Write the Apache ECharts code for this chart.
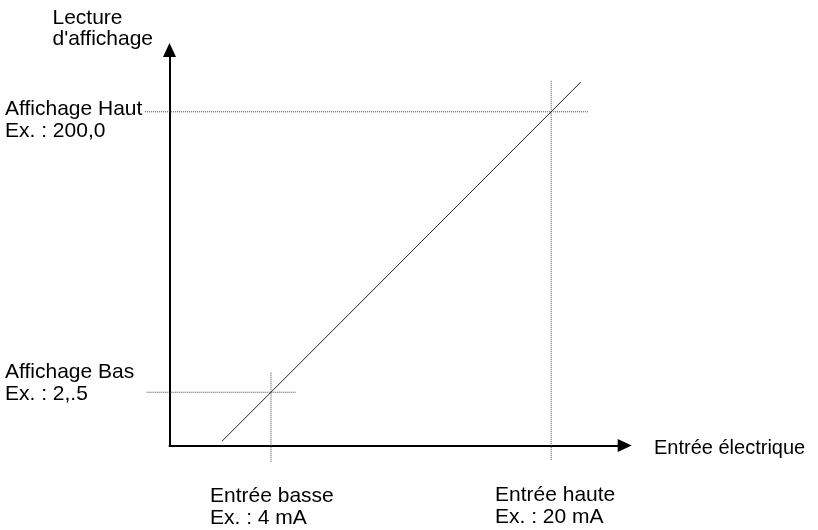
<!DOCTYPE html>
<html>
<head>
<meta charset="utf-8">
<script src="https://cdn.jsdelivr.net/npm/echarts@6/dist/echarts.min.js"></script>
<style>
  html, body { margin: 0; padding: 0; background: #fff; }
  #chart { width: 818px; height: 530px; }
</style>
</head>
<body>
<div id="chart"></div>
<script>
// Scaling of an analog input: electrical input (mA) -> displayed reading
const inputRange = [-3.2, 24.2];        // mA covered by the drawing area (guides reach past the axis)
const axisInputRange = [-1.8, 24.2];    // mA spanned by the drawn horizontal axis
const displayRange = [-35, 243.5];      // reading spanned by the vertical axis

const inputLow = 4;                      // mA
const inputHigh = 20;                    // mA
const displayLow = 2.5;
const displayHigh = 200;

// scaling line (input, reading)
const traceInput = [1.2, 4, 20, 21.7];
const traceDisplay = [-32, 2.5, 200, 221];

// extents of the dotted guide lines
const highGuideInput = [-3.2, 22.1];
const highGuideDisplay = [221.8, -45];
const lowGuideInput = [-3.1, 5.4];
const lowGuideDisplay = [16.3, -47];

const FONT = '"Liberation Sans", Arial, sans-serif';
const chart = echarts.init(document.getElementById('chart'));

const guideStyle = { color: '#444', width: 1, type: 'dotted' };
function guide(points) {
  return {
    type: 'line', data: points, symbol: 'none', clip: false, silent: true,
    xAxisIndex: 0, yAxisIndex: 0,
    lineStyle: guideStyle, z: 1, animation: false
  };
}

function label(text, x, baseline, size) {
  size = size || 21;
  return {
    type: 'text', x: x, y: baseline - 0.35 * size,
    style: { text: text, fill: '#000', font: size + 'px ' + FONT, verticalAlign: 'middle', align: 'left' }
  };
}

const hiddenAxis = { type: 'value', show: false };
const drawnAxis = {
  type: 'value',
  axisLabel: { show: false },
  axisTick: { show: false },
  splitLine: { show: false },
  axisLine: {
    show: true, onZero: false,
    symbol: ['none', 'triangle'], symbolSize: [13, 14],
    lineStyle: { color: '#000', width: 2 }
  }
};

chart.setOption({
  animation: false,
  backgroundColor: '#fff',
  grid: [
    // marks
    { left: 144.9, top: 50, right: 193.3, bottom: 84.5 },
    // arrowed axes
    { left: 169.5, top: 50, right: 193.3, bottom: 84.5 }
  ],
  xAxis: [
    Object.assign({}, hiddenAxis, { gridIndex: 0, min: inputRange[0], max: inputRange[1] }),
    Object.assign({}, drawnAxis, { gridIndex: 1, min: axisInputRange[0], max: axisInputRange[1] })
  ],
  yAxis: [
    Object.assign({}, hiddenAxis, { gridIndex: 0, min: displayRange[0], max: displayRange[1] }),
    Object.assign({}, drawnAxis, { gridIndex: 1, min: displayRange[0], max: displayRange[1] })
  ],
  series: [
    guide([[highGuideInput[0], displayHigh], [highGuideInput[1], displayHigh]]),
    guide([[inputHigh, highGuideDisplay[0]], [inputHigh, highGuideDisplay[1]]]),
    guide([[lowGuideInput[0], displayLow], [lowGuideInput[1], displayLow]]),
    guide([[inputLow, lowGuideDisplay[0]], [inputLow, lowGuideDisplay[1]]]),
    {
      type: 'line', symbol: 'none', clip: false, silent: true, z: 2,
      xAxisIndex: 0, yAxisIndex: 0,
      data: traceInput.map((v, i) => [v, traceDisplay[i]]),
      lineStyle: { color: '#222', width: 1 }
    }
  ],
  graphic: [
    label('Lecture', 52.5, 25.5),
    label("d'affichage", 52.5, 47),
    label('Affichage Haut', 5, 116.7),
    label('Ex. : 200,0', 5, 138.2),
    label('Affichage Bas', 5, 380),
    label('Ex. : 2,.5', 5, 401.5),
    label('Entrée électrique', 654, 455, 20),
    label('Entrée basse', 210, 504),
    label('Ex. : 4 mA', 210, 525.5),
    label('Entrée haute', 495, 503),
    label('Ex. : 20 mA', 495, 524.5)
  ]
});
</script>
</body>
</html>
